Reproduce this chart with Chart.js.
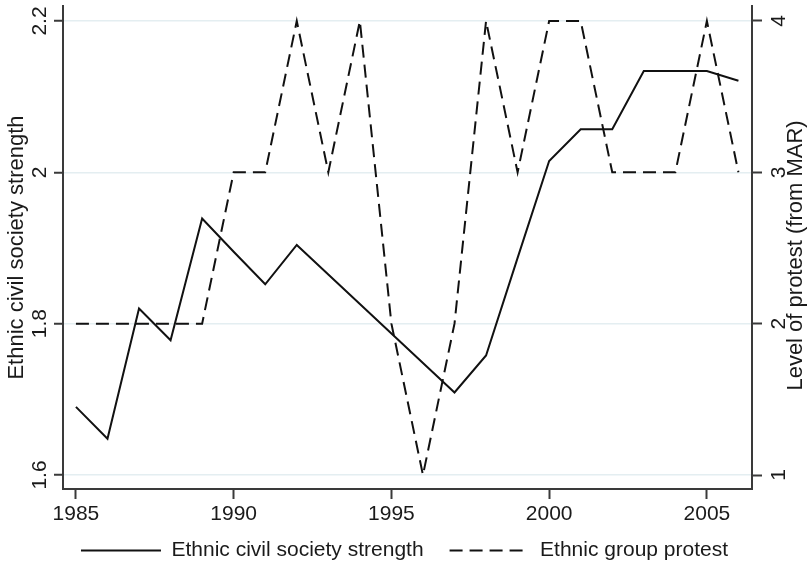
<!DOCTYPE html>
<html>
<head>
<meta charset="utf-8">
<script src="https://cdn.jsdelivr.net/npm/chart.js@4/dist/chart.umd.min.js"></script>
<style>
html,body{margin:0;padding:0;background:#ffffff;}
#wrap{width:809px;height:571px;}
</style>
</head>
<body>
<div id="wrap"><canvas id="c" width="809" height="571"></canvas></div>
<script>
// ---- data ----
const years = [1985,1986,1987,1988,1989,1990,1991,1992,1993,1994,1995,1996,1997,1998,1999,2000,2001,2002,2003,2004,2005,2006];
const civilSociety = [1.690,1.648,1.820,1.778,1.939,1.895,1.852,1.904,1.865,1.826,1.787,1.748,1.709,1.758,1.887,2.015,2.057,2.057,2.134,2.134,2.134,2.121];
const protest = [2,2,2,2,2,3,3,4,3,4,2,1,2,4,3,4,4,3,3,3,4,3];
const xTicks = [1985,1990,1995,2000,2005];
const leftTicks = [1.6,1.8,2,2.2];
const leftTickLabels = ['1.6','1.8','2','2.2'];
const rightTicks = [1,2,3,4];
const rightTickLabels = ['1','2','3','4'];
const seriesNames = ['Ethnic civil society strength','Ethnic group protest'];
const axisTitles = ['Ethnic civil society strength','Level of protest (from MAR)'];

// ---- style ----
const FONT = '"Liberation Sans", Arial, Helvetica, sans-serif';
const TXT = '#1a1a1a';
const AX = '#3a3a3a';
const GRID = '#e4eef1';
const LINE = '#111111';

const layoutFixPlugin = {
  id: 'layoutFix',
  afterLayout(chart) {
    // let the x tick labels extend below the (short) x-axis box without being clipped
    const x = chart.scales.x;
    x.bottom = chart.height;
  }
};

const rightTitlePlugin = {
  id: 'rightTitle',
  afterDraw(chart) {
    const ctx = chart.ctx;
    const s = chart.scales.y2;
    const ca = chart.chartArea;
    ctx.save();
    ctx.font = '22px ' + FONT;
    ctx.fillStyle = TXT;
    ctx.textAlign = 'center';
    ctx.textBaseline = 'middle';
    ctx.translate(s.right - 13, (ca.top + ca.bottom) / 2 + 8);
    ctx.rotate(-Math.PI / 2);
    ctx.fillText(axisTitles[1], 0, 0);
    ctx.restore();
  }
};

new Chart(document.getElementById('c'), {
  type: 'line',
  data: {
    datasets: [
      {
        label: seriesNames[0],
        data: years.map((yr, i) => ({x: yr, y: civilSociety[i]})),
        yAxisID: 'y',
        borderColor: LINE,
        backgroundColor: 'transparent',
        borderWidth: 2,
        pointRadius: 0,
        tension: 0,
        fill: false
      },
      {
        label: seriesNames[1],
        data: years.map((yr, i) => ({x: yr, y: protest[i]})),
        yAxisID: 'y2',
        borderColor: LINE,
        backgroundColor: 'transparent',
        borderWidth: 2,
        borderDash: [13, 7],
        pointRadius: 0,
        tension: 0,
        fill: false
      }
    ]
  },
  options: {
    responsive: false,
    animation: false,
    devicePixelRatio: 1,
    layout: {padding: {top: 6, left: 0, right: 0, bottom: 0}},
    plugins: {
      legend: {
        position: 'bottom',
        labels: {
          usePointStyle: true,
          pointStyle: 'line',
          pointStyleWidth: 80,
          padding: 26,
          color: TXT,
          font: {size: 21, family: FONT},
          generateLabels: chart => {
            const items = Chart.defaults.plugins.legend.labels.generateLabels(chart);
            items.forEach(it => {
              const ds = chart.data.datasets[it.datasetIndex];
              it.lineDash = ds.borderDash || [];
              it.lineWidth = ds.borderWidth;
              it.strokeStyle = ds.borderColor;
              it.fillStyle = 'transparent';
              it.pointStyle = 'line';
            });
            return items;
          }
        }
      },
      tooltip: {enabled: false}
    },
    scales: {
      x: {
        type: 'linear',
        position: 'bottom',
        min: 1984.59,
        max: 2006.43,
        afterBuildTicks: s => { s.ticks = xTicks.map(v => ({value: v})); },
        afterFit: s => { s.height = 25; s.paddingLeft = 0; s.paddingRight = 0; },
        grid: {drawOnChartArea: false, drawTicks: true, tickLength: 10, tickColor: AX, tickWidth: 2},
        border: {display: true, color: AX, width: 2},
        ticks: {color: TXT, font: {size: 21, family: FONT}, padding: 3, minRotation: 0, maxRotation: 0, autoSkip: false,
                callback: v => String(v)}
      },
      y: {
        type: 'linear',
        position: 'left',
        min: 1.5815,
        max: 2.2198,
        afterBuildTicks: s => { s.ticks = leftTicks.map(v => ({value: v})); },
        afterFit: s => { s.width = 63; s.paddingTop = 0; s.paddingBottom = 0; },
        grid: {color: GRID, lineWidth: 1.5, drawTicks: true, tickLength: 9, tickColor: AX, tickWidth: 2},
        border: {display: true, color: AX, width: 2},
        ticks: {color: TXT, font: {size: 21, family: FONT}, padding: -1, minRotation: 90, maxRotation: 90,
                crossAlign: 'center', autoSkip: false,
                callback: v => leftTickLabels[leftTicks.indexOf(v)]},
        title: {display: true, text: axisTitles[0], color: TXT, font: {size: 22, family: FONT}, padding: {top: 4, bottom: 0}}
      },
      y2: {
        type: 'linear',
        position: 'right',
        min: 0.9075,
        max: 4.099,
        afterBuildTicks: s => { s.ticks = rightTicks.map(v => ({value: v})); },
        afterFit: s => { s.width = 57; s.paddingTop = 0; s.paddingBottom = 0; },
        grid: {drawOnChartArea: false, drawTicks: true, tickLength: 10, tickColor: AX, tickWidth: 2},
        border: {display: true, color: AX, width: 2},
        ticks: {color: TXT, font: {size: 21, family: FONT}, padding: 11, minRotation: 90, maxRotation: 90,
                crossAlign: 'center', autoSkip: false,
                callback: v => rightTickLabels[rightTicks.indexOf(v)]},
        title: {display: false}
      }
    }
  },
  plugins: [layoutFixPlugin, rightTitlePlugin]
});
</script>
</body>
</html>
